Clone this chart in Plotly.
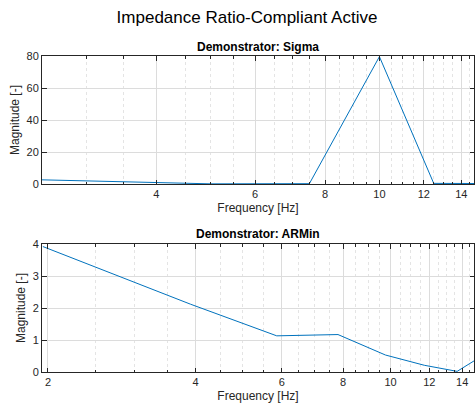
import numpy as np
import plotly.graph_objects as go

# ---- data ----
sigma_freq = [2.5, 5.0, 7.5, 10.0, 12.5, 15.0]
sigma_mag = [2.6, 0.1, 0.2, 79.6, 0.4, 0.3]

armin_freq = [1.953, 3.906, 5.859, 7.8125, 9.766, 11.719, 13.672, 15.625]
armin_mag = [3.92, 2.12, 1.13, 1.17, 0.53, 0.21, 0.02, 0.57]

top_xticks = [4, 6, 8, 10, 12, 14]
bot_xticks = [2, 4, 6, 8, 10, 12, 14]
top_yticks = [0, 20, 40, 60, 80]
bot_yticks = [0, 1, 2, 3, 4]

title_main = "Impedance Ratio-Compliant Active"
title_top = "Demonstrator: Sigma"
title_bot = "Demonstrator: ARMin"
xlab = "Frequency [Hz]"
ylab = "Magnitude [-]"

top_xlim = (2.5, 14.75)
bot_xlim = (1.945, 14.8)

LINE = "#0072BD"
AX = "#262626"
FONT = "Liberation Sans, Arial, Helvetica, sans-serif"


def minor_vals(lo, hi, majors):
    vals = []
    v = 0.5
    while v <= hi:
        if v >= lo and all(abs(v - m) > 1e-9 for m in majors):
            vals.append(v)
        v += 0.5
    return vals


fig = go.Figure()
fig.add_trace(go.Scatter(x=sigma_freq, y=sigma_mag, mode="lines",
                         line=dict(color=LINE, width=1), xaxis="x", yaxis="y",
                         cliponaxis=True))
fig.add_trace(go.Scatter(x=armin_freq, y=armin_mag, mode="lines",
                         line=dict(color=LINE, width=1), xaxis="x2", yaxis="y2",
                         cliponaxis=True))


def xaxis_cfg(lim, ticks, domain_anchor):
    return dict(
        type="log", range=[np.log10(lim[0]), np.log10(lim[1])],
        tickmode="array", tickvals=ticks, ticktext=[str(t) for t in ticks],
        showgrid=True, gridcolor="#dcdcdc", gridwidth=1,
        minor=dict(tickmode="array", tickvals=minor_vals(lim[0], lim[1], ticks),
                   showgrid=True, gridcolor="#e4e4e4", griddash="dot", gridwidth=1,
                   ticks="inside", ticklen=2.5, tickcolor=AX, tickwidth=1),
        ticks="inside", ticklen=4.5, tickcolor=AX, tickwidth=1,
        showline=True, linecolor=AX, linewidth=1, mirror="ticks",
        zeroline=False, anchor=domain_anchor,
        tickfont=dict(family=FONT, size=11, color=AX),
        title=dict(text=xlab, font=dict(family=FONT, size=12, color=AX), standoff=4),
    )


def yaxis_cfg(rng, ticks, domain, anchor):
    return dict(
        range=rng, tickmode="array", tickvals=ticks, domain=domain,
        showgrid=True, gridcolor="#dcdcdc", gridwidth=1,
        ticks="inside", ticklen=4.5, tickcolor=AX, tickwidth=1,
        showline=True, linecolor=AX, linewidth=1, mirror="ticks",
        zeroline=False, anchor=anchor,
        tickfont=dict(family=FONT, size=11, color=AX),
        title=dict(text=ylab, font=dict(family=FONT, size=12, color=AX), standoff=4),
    )


H = 410
mt, mb = 56, 38
ph = H - mt - mb


def py(pix):
    return (H - mb - pix) / ph


fig.update_layout(
    width=475, height=410,
    margin=dict(l=42, r=1, t=mt, b=mb),
    plot_bgcolor="white", paper_bgcolor="white",
    showlegend=False,
    xaxis=xaxis_cfg(top_xlim, top_xticks, "y"),
    yaxis=yaxis_cfg([0, 80], top_yticks, [py(184), 1.0], "x"),
    xaxis2=xaxis_cfg(bot_xlim, bot_xticks, "y2"),
    yaxis2=yaxis_cfg([0, 4], bot_yticks, [0.0, py(244)], "x2"),
    title=dict(text=title_main, x=247 / 475, xref="container", xanchor="center",
               y=1 - 17.5 / 410, yref="container", yanchor="middle",
               font=dict(family=FONT, size=17, color="#000000")),
    annotations=[
        dict(text="<b>" + title_top + "</b>", x=0.5, xref="paper", y=py(47), yref="paper",
             xanchor="center", yanchor="middle", showarrow=False,
             font=dict(family=FONT, size=12, color="#000000")),
        dict(text="<b>" + title_bot + "</b>", x=0.5, xref="paper", y=py(234), yref="paper",
             xanchor="center", yanchor="middle", showarrow=False,
             font=dict(family=FONT, size=12, color="#000000")),
    ],
)

fig.write_html("out.html")
